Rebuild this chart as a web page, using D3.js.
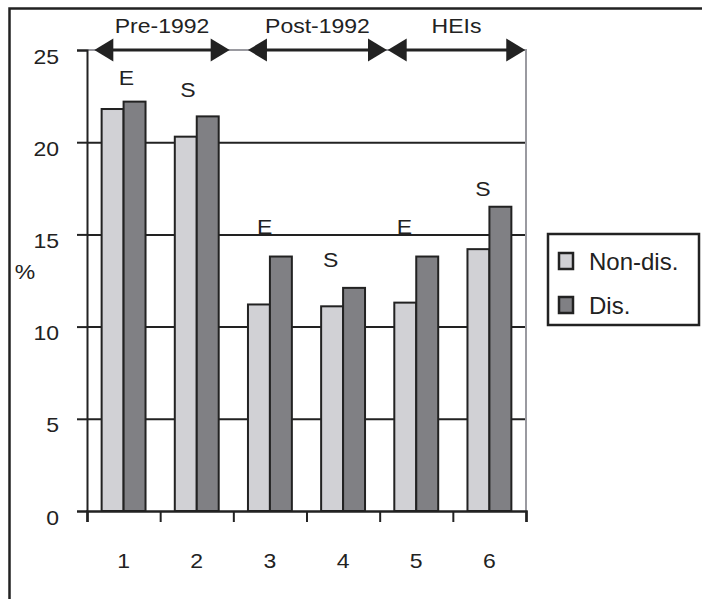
<!DOCTYPE html>
<html>
<head>
<meta charset="utf-8">
<script src="https://cdn.jsdelivr.net/npm/d3@7"></script>
<style>
  body { margin: 0; background: #fff; }
  svg { display: block; }
  text { font-family: "Liberation Sans", Arial, sans-serif; fill: #222; }
</style>
</head>
<body>
<div id="chart"></div>
<script>
// data
const categories = ["1", "2", "3", "4", "5", "6"];
const seriesNames = ["Non-dis.", "Dis."];
const nonDis = [21.8, 20.3, 11.2, 11.1, 11.3, 14.2];
const dis = [22.2, 21.4, 13.8, 12.1, 13.8, 16.5];
const yTicks = [0, 5, 10, 15, 20, 25];

// group arrows over the categories (in category units)
const groupNames = ["Pre-1992", "Post-1992", "HEIs"];
const groupFrom = [0.1, 2.2, 4.11];
const groupTo = [1.95, 4.1, 5.99];

// E / S letters (category position, value)
const noteText = ["E", "S", "E", "S", "E", "S"];
const notePos = [0.54, 1.38, 2.43, 3.33, 4.34, 5.41];
const noteVal = [23.5, 22.85, 15.4, 13.65, 15.4, 17.5];

const W = 702, H = 599;
const pLeft = 87, pRight = 526, pTop = 50, pBottom = 511;
const colors = ["#d1d1d5", "#808084"];
const sx = 1.15; // text in the picture is a bit wide

const svg = d3.select("#chart").append("svg")
  .attr("width", W).attr("height", H);

// outer frame (only top and left visible)
svg.append("path")
  .attr("d", `M9.5,${H} V8.5 H${W}`)
  .attr("fill", "none").attr("stroke", "#222").attr("stroke-width", 2.5);

const y = d3.scaleLinear().domain([0, 25]).range([pBottom, pTop]);
const xl = d3.scaleLinear().domain([0, 6]).range([pLeft, pRight]);
const x0 = d3.scaleBand().domain(categories).range([pLeft, pRight])
  .paddingInner(0.4).paddingOuter(0.2);
const x1 = d3.scaleBand().domain(seriesNames).range([0, x0.bandwidth()]);

// gridlines
const grid = svg.append("g").attr("transform", `translate(${pLeft},0)`)
  .call(d3.axisLeft(y).tickValues([5, 10, 15, 20]).tickSize(-(pRight - pLeft)).tickFormat(""));
grid.select(".domain").remove();
grid.selectAll("line").attr("stroke", "#222").attr("stroke-width", 2);

// plot border top / right (grey)
svg.append("path")
  .attr("d", `M${pLeft},${pTop} H${pRight} V${pBottom}`)
  .attr("fill", "none").attr("stroke", "#9a9aa0").attr("stroke-width", 2);

// bars
svg.append("g")
  .selectAll("g")
  .data(categories)
  .join("g")
  .attr("transform", (d) => `translate(${x0(d)},0)`)
  .selectAll("rect")
  .data((d, i) => [
    { key: seriesNames[0], value: nonDis[i] },
    { key: seriesNames[1], value: dis[i] },
  ])
  .join("rect")
  .attr("x", (d) => x1(d.key))
  .attr("y", (d) => y(d.value))
  .attr("width", x1.bandwidth())
  .attr("height", (d) => y(0) - y(d.value))
  .attr("fill", (d, i) => colors[i])
  .attr("stroke", "#222")
  .attr("stroke-width", 2);

// y axis
const yAxis = svg.append("g").attr("transform", `translate(${pLeft},0)`)
  .call(d3.axisLeft(y).tickValues(yTicks).tickSize(10).tickPadding(0));
yAxis.select(".domain").attr("stroke", "#222").attr("stroke-width", 2);
yAxis.selectAll("line").attr("stroke", "#222").attr("stroke-width", 2);
yAxis.selectAll("text").remove();
yAxis.selectAll(".tick").append("text")
  .attr("text-anchor", "end")
  .attr("transform", `translate(-28,6) scale(${sx},1)`)
  .attr("dy", "0.35em")
  .style("font-size", "20px")
  .text((d) => d);

// x axis: ticks at category boundaries
const xAxis = svg.append("g").attr("transform", `translate(0,${pBottom})`)
  .call(d3.axisBottom(xl).ticks(6).tickSize(11).tickFormat(""));
xAxis.select(".domain").attr("stroke", "#222").attr("stroke-width", 2.5);
xAxis.selectAll("line").attr("stroke", "#222").attr("stroke-width", 2);

const xLab = svg.append("g").attr("transform", `translate(0,${pBottom})`)
  .call(d3.axisBottom(x0).tickSize(0).tickPadding(0));
xLab.select(".domain").remove();
xLab.selectAll("text").remove();
xLab.selectAll(".tick").append("text")
  .attr("text-anchor", "middle")
  .attr("transform", `translate(0,57) scale(${sx},1)`)
  .style("font-size", "20px")
  .text((d) => d);

// % label
svg.append("text")
  .attr("text-anchor", "middle")
  .attr("transform", `translate(25,279) scale(${sx},1)`)
  .style("font-size", "20px")
  .text("%");

// group arrows
function arrowHead(xTip, dir) {
  const len = 19, half = 11.5, yy = pTop;
  return `M${xTip},${yy} L${xTip - dir * len},${yy - half} L${xTip - dir * len},${yy + half} Z`;
}
const arrows = svg.append("g");
groupNames.forEach((name, i) => {
  const a = xl(groupFrom[i]), b = xl(groupTo[i]);
  arrows.append("line")
    .attr("x1", a + 10).attr("x2", b - 10)
    .attr("y1", pTop).attr("y2", pTop)
    .attr("stroke", "#222").attr("stroke-width", 3);
  arrows.append("path").attr("d", arrowHead(a, -1)).attr("fill", "#222");
  arrows.append("path").attr("d", arrowHead(b, 1)).attr("fill", "#222");
  arrows.append("text")
    .attr("text-anchor", "middle")
    .attr("transform", `translate(${(a + b) / 2},33) scale(${sx},1)`)
    .style("font-size", "20px")
    .text(name);
});

// E / S letters
svg.append("g")
  .selectAll("text")
  .data(noteText)
  .join("text")
  .attr("text-anchor", "middle")
  .attr("transform", (d, i) => `translate(${xl(notePos[i])},${y(noteVal[i])}) scale(${sx},1)`)
  .attr("dy", "0.36em")
  .style("font-size", "20px")
  .text((d) => d);

// legend
const legend = svg.append("g").attr("transform", "translate(548,234)");
legend.append("rect")
  .attr("width", 151).attr("height", 91)
  .attr("fill", "#fff").attr("stroke", "#222").attr("stroke-width", 2.5);
const item = legend.selectAll("g.item")
  .data(seriesNames)
  .join("g")
  .attr("class", "item")
  .attr("transform", (d, i) => `translate(11,${19 + i * 44})`);
item.append("rect")
  .attr("width", 14).attr("height", 16)
  .attr("fill", (d, i) => colors[i])
  .attr("stroke", "#222").attr("stroke-width", 2.5);
item.append("text")
  .attr("x", 30).attr("y", 17)
  .style("font-size", "24px")
  .text((d) => d);
</script>
</body>
</html>
